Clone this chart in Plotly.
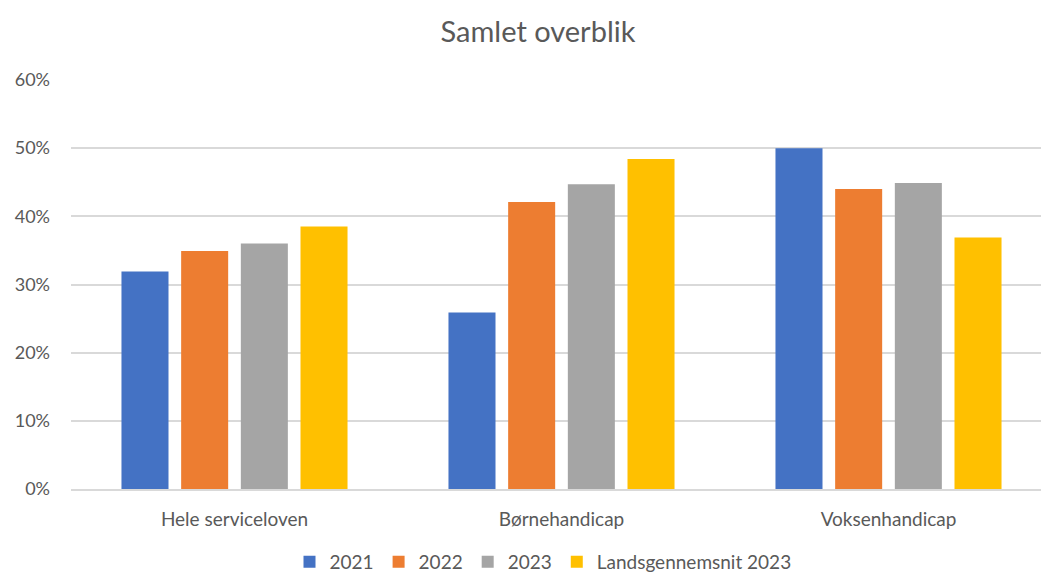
import plotly.graph_objects as go

categories = ["Hele serviceloven", "Børnehandicap", "Voksenhandicap"]
series_names = ["2021", "2022", "2023", "Landsgennemsnit 2023"]
v2021 = [0.319, 0.259, 0.500]
v2022 = [0.349, 0.421, 0.440]
v2023 = [0.360, 0.447, 0.449]
vlands = [0.385, 0.484, 0.369]
colors = ["#4472C4", "#ED7D31", "#A5A5A5", "#FFC000"]
y_ticks = [0, 0.1, 0.2, 0.3, 0.4, 0.5, 0.6]

fig = go.Figure()
for name, vals, col in zip(series_names, [v2021, v2022, v2023, vlands], colors):
    fig.add_trace(go.Bar(name=name, x=categories, y=vals, marker=dict(color=col, line=dict(width=0))))

W, H = 1041, 574
L, R, T, B = 71, 0, 80, 85
plot_w = W - L - R
cat_px = 327

fig.update_layout(
    width=W, height=H,
    margin=dict(l=L, r=R, t=T, b=B, autoexpand=False),
    paper_bgcolor="white", plot_bgcolor="white",
    font=dict(family="Lato", color="#595959", size=19),
    barmode="group", bargap=0.27, bargroupgap=0.212,
    title=dict(text="Samlet overblik", x=538 / W, xref="container", xanchor="center",
               y=1 - 32 / H, yref="container", yanchor="middle",
               font=dict(size=29, color="#595959")),
    legend=dict(orientation="h", xref="container", x=543 / W, xanchor="center",
                yref="container", y=1 - 562 / H, yanchor="middle",
                font=dict(size=19, color="#595959"), itemsizing="constant",
                itemwidth=30, tracegroupgap=0),
    xaxis=dict(range=[-0.5, -0.5 + plot_w / cat_px], showgrid=False, showline=True,
               linecolor="#D9D9D9", linewidth=1.5, ticks="", ticklabelstandoff=12,
               tickfont=dict(size=19, color="#595959")),
    yaxis=dict(range=[0, 0.6], tickvals=y_ticks, tickformat=".0%", showgrid=True,
               gridcolor="#D9D9D9", gridwidth=1.5, zeroline=False, showline=False,
               ticks="", ticklabelstandoff=20, tickfont=dict(size=18, color="#595959")),
)

fig.write_html("out.html", config={"displayModeBar": False},
               post_script="document.body.style.margin='0';document.body.style.overflow='hidden';")
